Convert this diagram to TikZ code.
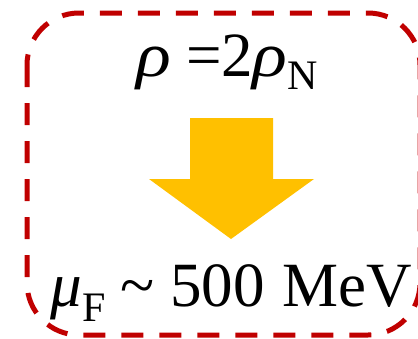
\documentclass[tikz,border=0pt]{standalone}
\usepackage{fontspec}
\usepackage{graphicx}
\setmainfont{Liberation Serif}
\tikzset{
  boxline/.style={draw=boxred, line width=5pt, dash pattern=on 22pt off 16pt, rounded corners=52pt},
  bigtext/.style={font=\fontsize{63}{63}\selectfont, inner sep=0pt, anchor=base west},
  subtext/.style={font=\fontsize{42}{42}\selectfont, inner sep=0pt, anchor=base west},
  arrowfill/.style={fill=arrowgold, draw=none}
}
\definecolor{boxred}{HTML}{C00000}
\definecolor{arrowgold}{HTML}{FFC000}
\newcommand{\widerho}{\scalebox{1.15}[1]{\itshape ρ}}
\begin{document}
\begin{tikzpicture}[x=1pt,y=-1pt]
\useasboundingbox (0,0) rectangle (418,338);
\draw[boxline] (27,13) rectangle (420,335);
% top formula
\node[bigtext] (rho1) at (136,76) {\widerho};
\node[bigtext] (eq) at (186,76) {=};
\node[bigtext] (two) at (221,76) {2};
\node[bigtext] (rho2) at (252,76) {\widerho};
\node[subtext] (N) at (287,89) {N};
% arrow
\fill[arrowfill] (190,118) -- (273,118) -- (273,179) -- (314,179) -- (231,239) -- (149,179) -- (190,179) -- cycle;
% bottom formula
\node[bigtext] (mu) at (50,306) {\itshape μ};
\node[subtext] (F) at (82,321) {F};
\node[bigtext] (tilde) at (120,306) {\char`\~};
\node[bigtext] (num) at (170,306) {500};
\node[bigtext] (unit) at (282,306) {MeV};
\end{tikzpicture}
\end{document}
